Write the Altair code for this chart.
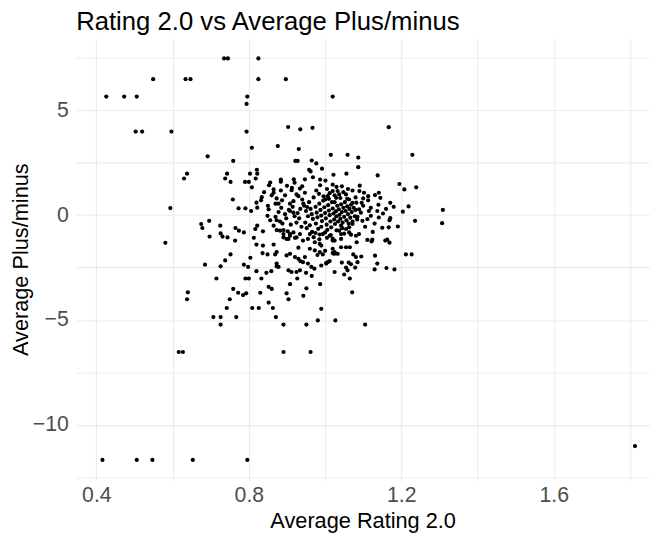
import altair as alt
import pandas as pd

# points: (Average Rating 2.0, Average Plus/minus)
upper_points = [
    (0.735, 7.48), (0.745, 7.48), (0.825, 7.48),
    (0.549, 6.49), (0.634, 6.49), (0.647, 6.49), (0.825, 6.49), (0.897, 6.49),
    (0.426, 5.66), (0.473, 5.66), (0.506, 5.66), (0.796, 5.66), (0.794, 5.31), (1.02, 5.66),
    (0.503, 3.99), (0.52, 3.99), (0.597, 3.99), (0.794, 3.99), (0.903, 4.21), (0.935, 4.10),
    (0.967, 4.17), (1.167, 4.2),
    (0.808, 3.22), (0.876, 3.30), (0.931, 3.16), (0.692, 2.81), (0.759, 2.59), (0.922, 2.59), (0.928, 2.59),
    (1.015, 2.88), (1.059, 2.88), (1.087, 2.75), (1.229, 2.88), (1.087, 2.29), (1.056, 1.98), (1.138, 1.90),
    (0.965, 2.61), (0.977, 2.47), (0.992, 2.22), (1.022, 1.93),
]

upper_mid_points = [
    (0.63, 1.75), (0.638, 1.98), (0.738, 1.75), (0.743, 1.98), (0.752, 1.59), (0.79, 1.59), (0.80, 1.59),
    (0.803, 1.98), (0.821, 2.17), (0.822, 1.98), (0.818, 1.75), (0.808, 1.33), (0.853, 1.43), (0.856, 1.56),
    (0.865, 1.23), (0.884, 1.70), (0.884, 1.60), (0.918, 1.71), (0.913, 1.30), (0.94, 1.38), (0.947, 1.71),
    (0.884, 1.18), (0.865, 1.07), (0.912, 1.19), (0.934, 1.27), (0.925, 0.99), (0.947, 1.07), (0.958, 2.17),
    (0.962, 2.09), (0.968, 1.81), (0.987, 1.70), (1.001, 1.65), (0.987, 1.43), (0.977, 1.18), (0.984, 1.02),
    (1.02, 1.46), (1.02, 1.15), (1.007, 0.91), (1.001, 0.75), (0.758, 0.75), (0.834, 0.86), (0.832, 0.71),
    (0.873, 0.80), (0.878, 0.55), (0.87, 0.55), (0.887, 0.71), (0.852, 0.28), (0.908, 0.55), (0.917, 0.67),
    (0.93, 0.91), (0.943, 0.55), (0.953, 0.39), (0.908, 0.20), (0.917, 0.12), (0.773, 0.33), (0.791, 0.33),
    (0.806, 0.20), (0.822, 0.36), (0.594, 0.34),
    (1.044, 1.38), (1.072, 1.18), (1.091, 1.41), (1.195, 1.49), (1.208, 1.23), (1.239, 1.33), (1.033, 1.15),
    (1.037, 0.99), (1.029, 0.83), (1.055, 0.99), (1.063, 0.75), (1.072, 0.59), (1.102, 1.07), (1.113, 0.91),
    (1.131, 0.96), (1.141, 1.07), (1.145, 0.83), (1.096, 0.59), (1.113, 0.71), (1.171, 0.59), (1.204, 0.17),
    (1.219, 0.42), (1.236, -0.27), (1.309, 0.25), (1.307, -0.38),
    (1.005, 1.25), (1.012, 1.05), (1.03, 1.35), (1.048, 1.1), (1.06, 1.25), (1.08, 0.85), (1.09, 1.15),
    (1.1, 0.8), (1.058, 0.78), (1.025, 0.62), (0.84, 1.1), (0.86, 0.95), (0.895, 0.95), (0.9, 1.4),
    (0.92, 1.55), (0.85, 0.45), (0.82, 0.6),
]

dense_points = [
    (0.945, 0.45), (0.95, 0.20), (0.955, -0.05), (0.948, -0.35), (0.952, -0.62), (0.958, 0.62),
    (0.962, 0.30), (0.965, 0.05), (0.968, -0.18), (0.96, -0.48), (0.966, -0.80), (0.97, 0.85),
    (0.975, 0.40), (0.978, 0.12), (0.98, -0.10), (0.976, -0.40), (0.982, -0.65), (0.985, 0.55),
    (0.988, 0.25), (0.99, -0.02), (0.992, -0.28), (0.986, -0.92), (0.995, 0.70), (0.998, 0.38),
    (1.0, 0.10), (1.002, -0.15), (1.004, -0.45), (1.006, -0.70), (1.008, 0.48), (1.01, 0.22),
    (1.012, 0.0), (1.014, -0.30), (1.016, -0.58), (1.018, 0.62), (1.02, 0.32), (1.022, 0.08),
    (1.024, -0.20), (1.026, -0.42), (1.028, 0.18), (1.03, -0.05), (1.032, 0.45), (1.034, -0.30),
    (1.036, 0.28), (1.038, 0.02), (1.04, -0.18), (1.042, 0.52), (1.044, 0.15), (1.046, -0.35),
    (1.048, 0.35), (1.05, -0.08), (1.052, 0.62), (1.054, 0.20), (1.056, -0.25), (1.058, 0.42),
    (1.06, 0.05), (1.062, -0.40), (1.064, 0.30), (1.066, -0.12), (1.068, 0.50), (1.07, 0.15),
    (1.072, -0.30), (1.075, 0.35), (1.078, -0.05), (1.08, 0.25), (1.082, 0.60), (1.084, -0.20),
    (0.935, 0.30), (0.932, -0.15), (0.938, -0.55), (0.928, 0.10), (0.94, 0.75), (0.925, -0.35),
    (0.915, 0.40), (0.92, -0.05), (0.91, -0.45), (0.905, 0.25), (0.898, -0.15), (0.895, 0.05),
    (0.888, -0.40), (0.885, 0.35), (0.878, 0.15), (0.87, -0.08),
    (0.996, 0.90), (1.01, 0.78), (1.025, 0.95), (1.04, 0.82), (0.99, -0.55), (1.0, -0.82),
    (1.015, -0.95), (1.03, -0.72), (1.045, -0.62), (1.05, -0.88), (0.975, -0.85), (0.97, -1.05),
    (0.985, -1.15), (1.005, -1.08), (1.02, -1.12),
    (1.1, 0.45), (1.12, 0.35), (1.13, -0.4), (1.15, -0.6), (1.14, 0.5), (1.16, 0.3), (1.105, -0.55),
    (1.125, -0.8), (1.18, 0.4),
    (1.152, 0.08), (1.171, -0.14), (1.169, -0.24), (1.191, -0.54), (1.167, -0.58), (1.137, 0.20),
    (1.141, -0.11), (1.115, 0.20), (1.12, -0.03), (1.111, -0.19), (1.089, 0.28), (1.094, 0.12),
    (1.085, -0.08), (1.098, -0.27), (1.072, -0.42), (1.063, -0.58), (1.055, -0.66), (1.042, -0.50),
    (1.037, -0.74), (1.081, -0.98), (1.089, -0.90), (1.111, -1.18), (1.124, -1.17), (1.163, -1.17),
]

lower_mid_points = [
    (0.675, -0.42), (0.678, -0.61), (0.696, -0.27), (0.725, -0.50), (0.697, -1.02), (0.726, -0.87),
    (0.731, -1.02), (0.744, -1.06), (0.765, -0.61), (0.774, -0.74), (0.787, -0.82), (0.817, -0.66),
    (0.822, -0.50), (0.837, -0.77), (0.813, -1.08), (0.849, -0.03), (0.856, -0.24), (0.873, -0.24),
    (0.882, -0.30), (0.865, -0.50), (0.873, -0.71), (0.891, -0.71), (0.902, -0.77), (0.908, -0.90),
    (0.891, -1.06), (0.904, -1.13), (0.921, -1.08), (0.581, -1.32),
    (0.764, -1.21), (0.82, -1.40), (0.837, -1.45), (0.865, -1.40), (0.836, -1.81), (0.849, -1.87),
    (0.869, -1.87), (0.873, -1.76), (0.804, -2.03), (0.752, -1.87), (0.738, -2.16), (0.726, -2.44),
    (0.685, -2.36), (0.787, -2.36), (0.798, -2.47), (0.82, -2.67), (0.846, -2.75), (0.859, -2.67),
    (0.873, -2.44),
    (0.899, -1.92), (0.908, -1.84), (0.921, -2.0), (0.93, -2.08), (0.935, -2.19), (0.947, -2.0),
    (0.942, -2.24), (0.955, -2.31), (0.964, -2.47), (0.972, -2.55), (0.904, -2.63), (0.912, -2.71),
    (0.925, -2.71), (0.934, -2.63), (0.873, -2.31), (0.878, -2.47), (0.973, -1.68), (0.986, -1.76),
    (0.994, -1.87), (1.003, -2.28), (1.012, -2.19), (1.024, -1.84), (1.02, -1.60), (0.973, -1.29),
    (0.986, -1.37), (0.994, -0.90), (1.012, -0.98), (1.02, -1.21), (0.882, -0.74), (0.891, -0.90),
    (0.899, -1.13), (0.908, -0.98), (0.917, -0.82), (0.925, -1.06), (0.934, -0.90), (0.942, -1.21),
    (0.955, -1.13), (0.96, -0.90),
    (0.96, -1.6), (0.98, -1.9), (0.99, -2.4), (0.95, -2.75), (0.965, -2.9), (0.93, -1.55),
    (0.99, -1.45), (1.0, -1.7),
    (1.042, -0.90), (1.063, -0.82), (1.068, -0.93), (1.025, -1.21), (1.042, -1.13), (1.083, -1.29),
    (1.122, -1.25), (1.158, -1.21), (1.169, -1.31), (1.042, -1.53), (1.055, -1.53), (1.065, -1.53),
    (1.025, -1.76), (1.033, -1.84), (1.02, -1.81), (1.074, -1.87), (1.081, -2.0), (1.095, -1.97),
    (1.131, -1.93), (1.212, -1.87), (1.227, -1.87), (1.007, -2.24), (1.003, -2.31), (1.044, -2.26),
    (1.062, -2.26), (1.068, -2.34), (1.085, -2.24), (1.137, -2.31), (1.055, -2.5), (1.059, -2.63),
    (1.079, -2.5), (1.13, -2.59), (1.161, -2.52), (1.182, -2.59), (1.025, -2.71), (1.05, -2.83),
    (1.065, -3.02),
]

lower_points = [
    (0.833, -3.02), (0.791, -3.02), (0.80, -3.02), (0.715, -3.02), (0.759, -3.52), (0.64, -3.68),
    (0.638, -4.01), (0.772, -3.70), (0.785, -3.81), (0.793, -3.73), (0.83, -3.70), (0.852, -3.42),
    (0.86, -3.52), (0.75, -4.01), (0.742, -4.43), (0.707, -4.86), (0.726, -4.86), (0.726, -5.22),
    (0.767, -4.86), (0.809, -4.43), (0.826, -4.43), (0.852, -4.17), (0.863, -4.43), (0.871, -4.86),
    (0.891, -5.22), (0.899, -3.73), (0.904, -4.01), (0.943, -3.85), (0.951, -5.22), (0.951, -3.49),
    (0.908, -3.29), (0.987, -3.29), (0.981, -5.02), (0.99, -4.47), (1.027, -5.02), (0.927, -3.02),
    (1.071, -3.68), (1.105, -5.22),
    (0.616, -6.53), (0.627, -6.53), (0.891, -6.53), (0.962, -6.53),
    (0.416, -11.68), (0.506, -11.68), (0.547, -11.68), (0.653, -11.68), (0.796, -11.68),
    (1.813, -11.02),
]

all_points = upper_points + upper_mid_points + dense_points + lower_mid_points + lower_points
df = pd.DataFrame(all_points, columns=["rating", "plusminus"])

x_grid = [0.4, 0.6, 0.8, 1.0, 1.2, 1.4, 1.6, 1.8]
y_grid = [-12.5, -10, -7.5, -5, -2.5, 0, 2.5, 5, 7.5]

FONT = "Liberation Sans"

chart = alt.Chart(df).mark_circle(size=18, color="black", opacity=1).encode(
    x=alt.X(
        "rating:Q",
        scale=alt.Scale(domain=[0.347, 1.85], nice=False, zero=False),
        axis=alt.Axis(
            values=x_grid,
            labelExpr="round(datum.value*10) % 4 == 0 ? format(datum.value, '.1f') : ''",
            title="Average Rating 2.0",
            titlePadding=5,
            labelPadding=4,
        ),
    ),
    y=alt.Y(
        "plusminus:Q",
        scale=alt.Scale(domain=[-12.66, 8.46], nice=False, zero=False),
        axis=alt.Axis(
            values=y_grid,
            labelExpr="datum.value % 5 == 0 ? format(datum.value, 'd') : ''",
            title="Average Plus/minus",
            titlePadding=0,
            labelPadding=8,
        ),
    ),
).properties(
    width=580,
    height=448,
    title=alt.TitleParams(
        "Rating 2.0 vs Average Plus/minus",
        anchor="start",
        frame="group",
        fontSize=26,
        fontWeight="normal",
        font=FONT,
        color="black",
        offset=3,
    ),
    autosize=alt.AutoSizeParams(type="none"),
    padding={"left": 69, "top": 27, "right": 8, "bottom": 60},
).configure_view(
    stroke=None
).configure_axis(
    domain=False,
    ticks=False,
    grid=True,
    gridColor="#EBEBEB",
    gridWidth=1.1,
    labelFont=FONT,
    labelFontSize=21.5,
    labelColor="#4D4D4D",
    titleFont=FONT,
    titleFontSize=22,
    titleFontWeight="normal",
    titleColor="black",
    labelOverlap=False,
)

chart.save("out.html", embed_options={"renderer": "svg", "actions": False})
